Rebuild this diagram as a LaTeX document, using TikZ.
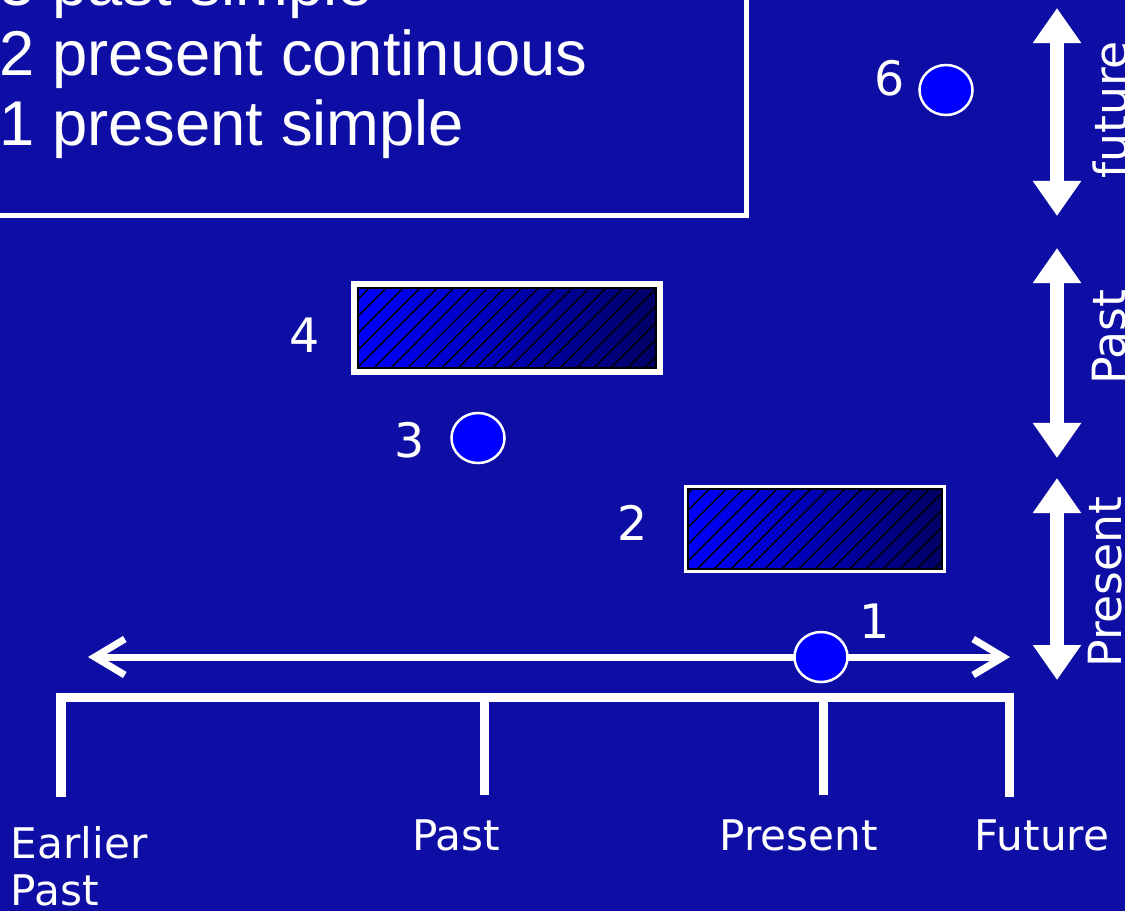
\documentclass[tikz,border=0pt]{standalone}
\usepackage{fontspec}
\setmainfont{Liberation Sans}
\newfontfamily\vfont{DejaVu Sans}
\usetikzlibrary{arrows.meta,shapes.geometric,patterns.meta}
\definecolor{bgblue}{RGB}{14,14,165}
\definecolor{dotblue}{RGB}{0,0,255}
\definecolor{darkend}{RGB}{0,0,100}

\begin{document}
\begin{tikzpicture}[x=0.01cm,y=-0.01cm,
  dot/.style={draw=white,line width=0.025cm,fill=dotblue,ellipse,minimum width=0.53cm,minimum height=0.5cm,inner sep=0},
  num/.style={text=white,font=\vfont\fontsize{13.5}{16}\selectfont,anchor=base,inner sep=0},
  lab/.style={text=white,font=\vfont\fontsize{12}{14}\selectfont,anchor=base,inner sep=0},
  side/.style={text=white,font=\vfont\fontsize{13}{15}\selectfont,anchor=base,rotate=90,inner sep=0},
  leg/.style={text=white,font=\fontsize{18}{20}\selectfont,anchor=base west,inner sep=0},
  hatchbox/.style={draw=black,line width=0.02cm,left color=dotblue,right color=darkend,inner sep=0,
    preaction={draw=white,line width=#1},
    postaction={pattern={Lines[angle=45,distance=3.4pt,line width=0.4pt]},pattern color=black}},
  vert/.style={white,line width=0.14cm,{Triangle[width=0.46cm,length=0.35cm]}-{Triangle[width=0.46cm,length=0.35cm]}}]
\useasboundingbox (0,0) rectangle (1125,911);
\fill[bgblue] (0,0) rectangle (1125,911);

\draw[white,line width=0.05cm] (-20,-20) rectangle (746,215);
\node[leg] (l3) at (-1,5) {3 past simple};
\node[leg] (l2) at (-1,75) {2 present continuous};
\node[leg] (l1) at (-1,145) {1 present simple};

\coordinate (fa) at (1057,8);
\coordinate (fb) at (1057,216);
\coordinate (pa) at (1057,248);
\coordinate (pb) at (1057,458);
\coordinate (qa) at (1057,478);
\coordinate (qb) at (1057,680);
\draw[vert] (fa) -- (fb);
\draw[vert] (pa) -- (pb);
\draw[vert] (qa) -- (qb);
\node[side] (sf) at (1127,110) {future};
\node[side] (sp) at (1125,337) {Past};
\node[side] (sq) at (1121,582) {Present};

\node[hatchbox=0.14cm,minimum width=2.98cm,minimum height=0.79cm] (r4) at (507,328) {};
\node[hatchbox=0.07cm,minimum width=2.54cm,minimum height=0.8cm] (r2) at (815,529) {};
\node[num] (n6) at (890,95) {6};
\node[num] (n4) at (305,352) {4};
\node[num] (n3) at (410,457) {3};
\node[num] (n2) at (633,540) {2};
\node[num] (n1) at (875,638) {1};

\coordinate (tl) at (88,657);
\coordinate (tr) at (1010,657);
\draw[white,line width=0.07cm,{Straight Barb[length=0.3cm,width=0.36cm]}-{Straight Barb[length=0.3cm,width=0.36cm]}] (tl) -- (tr);
\node[dot] (c6) at (946,90) {};
\node[dot] (c3) at (478,438) {};
\node[dot] (c1) at (821,657) {};

\draw[white,line width=0.09cm] (61,797) -- (61,697) -- (1009,697) -- (1009,797);
\draw[white,line width=0.09cm] (484,697) -- (484,795) (823,697) -- (823,795);
\node[lab,anchor=base west] (e1) at (10,858) {Earlier};
\node[lab,anchor=base west] (e2) at (10,905) {Past};
\node[lab] (b2) at (456,850) {Past};
\node[lab] (b3) at (799,850) {Present};
\node[lab] (b4) at (1042,850) {Future};
\end{tikzpicture}
\end{document}
